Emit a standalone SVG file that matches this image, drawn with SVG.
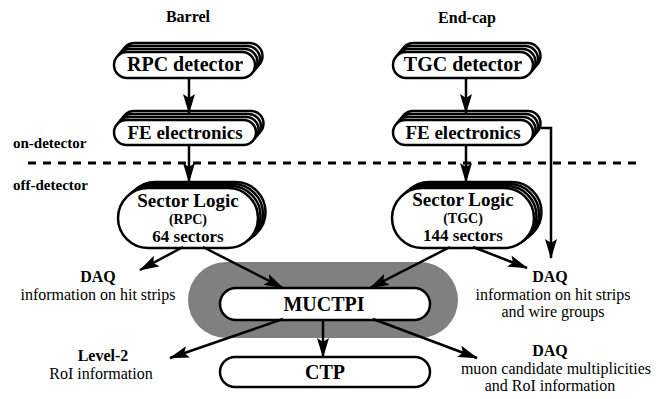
<svg xmlns="http://www.w3.org/2000/svg" width="669" height="399" viewBox="0 0 669 399">
<style>
.box{fill:#fff;stroke:#000;stroke-width:2.5}
text{font-family:'Liberation Serif','Times New Roman','DejaVu Serif',serif;fill:#000;text-anchor:middle}
.b{font-weight:bold}
.s{text-anchor:start}
.c{fill:none;stroke:#000;stroke-width:2.5}
</style>
<defs>
<marker id="ah" markerUnits="userSpaceOnUse" markerWidth="20" markerHeight="12" refX="19" refY="6" orient="auto">
<path d="M0,0 L20,6 L0,12 L4,6 z" fill="#000"/>
</marker>
</defs>
<rect width="669" height="399" fill="#fff"/>

<text class="b" x="188" y="22" font-size="16">Barrel</text>
<text class="b" x="467" y="23" font-size="16">End-cap</text>
<text class="b s" x="13" y="148" font-size="15">on-detector</text>
<text class="b s" x="13" y="190" font-size="15">off-detector</text>
<line x1="28" y1="163" x2="642" y2="163" stroke="#000" stroke-width="3" stroke-dasharray="8,7"/>

<rect x="188" y="262" width="270" height="76" rx="38" fill="#808080"/>

<g id="rpc-detector">
<rect class="box" x="121.5" y="43" width="141" height="26" rx="13"/>
<rect class="box" x="119" y="46" width="141" height="26" rx="13"/>
<rect class="box" x="116.5" y="49" width="141" height="26" rx="13"/>
<rect class="box" x="114" y="52" width="141" height="26" rx="13"/>
<text class="b" x="185" y="71" font-size="20">RPC detector</text>
</g>
<g id="rpc-fe">
<rect class="box" x="121.5" y="111" width="142" height="25" rx="12.5"/>
<rect class="box" x="119" y="114" width="142" height="25" rx="12.5"/>
<rect class="box" x="116.5" y="117" width="142" height="25" rx="12.5"/>
<rect class="box" x="114" y="120" width="142" height="25" rx="12.5"/>
<text class="b" x="185" y="139" font-size="19">FE electronics</text>
</g>
<g id="tgc-detector">
<rect class="box" x="400.5" y="43" width="140" height="26" rx="13"/>
<rect class="box" x="398" y="46" width="140" height="26" rx="13"/>
<rect class="box" x="395.5" y="49" width="140" height="26" rx="13"/>
<rect class="box" x="393" y="52" width="140" height="26" rx="13"/>
<text class="b" x="463" y="71" font-size="20">TGC detector</text>
</g>
<g id="tgc-fe">
<rect class="box" x="400.5" y="111" width="140" height="25" rx="12.5"/>
<rect class="box" x="398" y="114" width="140" height="25" rx="12.5"/>
<rect class="box" x="395.5" y="117" width="140" height="25" rx="12.5"/>
<rect class="box" x="393" y="120" width="140" height="25" rx="12.5"/>
<text class="b" x="463" y="139" font-size="19">FE electronics</text>
</g>
<g id="sl-rpc">
<rect class="box" x="125.5" y="182" width="140" height="60" rx="30"/>
<rect class="box" x="123" y="184" width="140" height="60" rx="30"/>
<rect class="box" x="120.5" y="186" width="140" height="60" rx="30"/>
<rect class="box" x="118" y="188" width="140" height="60" rx="30"/>
<text class="b" x="188" y="207" font-size="19">Sector Logic</text>
<text class="b" x="188" y="224" font-size="14">(RPC)</text>
<text class="b" x="188" y="242" font-size="17">64 sectors</text>
</g>
<g id="sl-tgc">
<rect class="box" x="399.5" y="182" width="142" height="60" rx="30"/>
<rect class="box" x="397" y="184" width="142" height="60" rx="30"/>
<rect class="box" x="394.5" y="186" width="142" height="60" rx="30"/>
<rect class="box" x="392" y="188" width="142" height="60" rx="30"/>
<text class="b" x="463" y="206" font-size="19">Sector Logic</text>
<text class="b" x="463" y="223" font-size="14">(TGC)</text>
<text class="b" x="463" y="241" font-size="17">144 sectors</text>
</g>
<g id="muctpi">
<rect class="box" x="220" y="288" width="210" height="32" rx="16"/>
<text class="b" x="324" y="311" font-size="20">MUCTPI</text>
</g>
<g id="ctp">
<rect class="box" x="220" y="357" width="210" height="30" rx="15"/>
<text class="b" x="325" y="379" font-size="20">CTP</text>
</g>

<g id="daq-left">
<text class="b" x="98" y="282" font-size="16">DAQ</text>
<text x="98" y="300" font-size="16">information on hit strips</text>
</g>
<g id="level2">
<text class="b" x="103" y="361" font-size="16">Level-2</text>
<text x="101" y="379" font-size="16">RoI information</text>
</g>
<g id="daq-right">
<text class="b" x="550" y="282" font-size="16">DAQ</text>
<text x="553" y="300" font-size="16">information on hit strips</text>
<text x="553" y="317" font-size="16">and wire groups</text>
</g>
<g id="daq-muctpi">
<text class="b" x="550" y="356" font-size="16">DAQ</text>
<text x="556" y="374" font-size="16">muon candidate multiplicities</text>
<text x="550" y="391" font-size="16">and RoI information</text>
</g>

<g id="connectors">
<line class="c" x1="189" y1="78" x2="189" y2="113" marker-end="url(#ah)"/>
<line class="c" x1="189" y1="145" x2="189" y2="182" marker-end="url(#ah)"/>
<line class="c" x1="466" y1="78" x2="466" y2="113" marker-end="url(#ah)"/>
<line class="c" x1="466" y1="145" x2="466" y2="182" marker-end="url(#ah)"/>
<path class="c" d="M541,128 H551 V258" marker-end="url(#ah)"/>
<line class="c" x1="183" y1="247" x2="140" y2="270" marker-end="url(#ah)"/>
<line class="c" x1="203" y1="247" x2="283" y2="288" marker-end="url(#ah)"/>
<line class="c" x1="450" y1="247" x2="370" y2="288" marker-end="url(#ah)"/>
<line class="c" x1="473" y1="247" x2="527" y2="268" marker-end="url(#ah)"/>
<line class="c" x1="283" y1="319" x2="170" y2="358" marker-end="url(#ah)"/>
<line class="c" x1="323" y1="320" x2="323" y2="357" marker-end="url(#ah)"/>
<line class="c" x1="373" y1="319" x2="477" y2="358" marker-end="url(#ah)"/>
</g>
</svg>
